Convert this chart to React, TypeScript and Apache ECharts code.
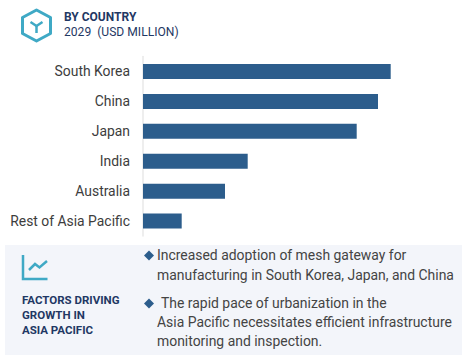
import React, { useEffect, useRef } from "react";
import * as echarts from "echarts";

const categories = ["South Korea", "China", "Japan", "India", "Australia", "Rest of Asia Pacific"];
const values = [247.7, 235, 213.7, 104.7, 82, 38.7];
const headerLines = ["BY COUNTRY", "2029  (USD MILLION)"];
const factorLines = ["FACTORS DRIVING", "GROWTH IN", "ASIA PACIFIC"];
const bulletTexts = [
  { x: 157, y: 255, t: "Increased adoption of mesh gateway for" },
  { x: 157, y: 275, t: "manufacturing in South Korea, Japan, and China" },
  { x: 161, y: 303, t: "The rapid pace of urbanization in the" },
  { x: 157, y: 322, t: "Asia Pacific necessitates efficient infrastructure" },
  { x: 157, y: 341, t: "monitoring and inspection." },
];

const FONT = "Roboto";
const NAVY = "#1f3864";
const TEAL = "#3fa9c5";
const BAR = "#2c5d8c";

function diamond(cx: number, cy: number) {
  return {
    type: "polygon",
    z: 5,
    shape: { points: [[cx - 5, cy], [cx, cy - 5], [cx + 5, cy], [cx, cy + 5]] },
    style: { fill: BAR },
  };
}

export default function App() {
  const ref = useRef<HTMLDivElement>(null);
  useEffect(() => {
    const chart = echarts.init(ref.current!, null, { renderer: "svg" });
    const hex = [[36.5, 10], [50.5, 17.5], [50.5, 33.5], [36.5, 41], [22.5, 33.5], [22.5, 17.5]];
    chart.setOption({
      animation: false,
      backgroundColor: "#ffffff",
      grid: { left: 143, top: 56.5, width: 300, height: 179.5 },
      xAxis: { type: "value", min: 0, max: 300, show: false },
      yAxis: {
        type: "category",
        inverse: true,
        data: categories,
        axisLine: { show: true, lineStyle: { color: "#e8e8e8", width: 1.5 } },
        axisTick: { show: false },
        axisLabel: { fontFamily: FONT, fontSize: 13.9, color: "#3d3d3d", margin: 13 },
      },
      series: [
        {
          type: "bar",
          data: values,
          barWidth: 15,
          silent: true,
          itemStyle: { color: BAR },
        },
      ],
      graphic: [
        { type: "rect", z: -1, shape: { x: 5, y: 245, width: 457, height: 110 }, style: { fill: "#f3f5fa" } },
        {
          type: "polygon",
          shape: { points: hex },
          style: { fill: "none", stroke: TEAL, lineWidth: 3, lineJoin: "round" },
        },
        { type: "line", shape: { x1: 36.5, y1: 26, x2: 36.5, y2: 33 }, style: { stroke: TEAL, lineWidth: 2.5 } },
        { type: "line", shape: { x1: 36.5, y1: 26, x2: 30.5, y2: 22 }, style: { stroke: TEAL, lineWidth: 2.5 } },
        { type: "line", shape: { x1: 36.5, y1: 26, x2: 42.5, y2: 22 }, style: { stroke: TEAL, lineWidth: 2.5 } },
        {
          type: "text",
          style: { x: 64, y: 17, text: headerLines[0], fontFamily: FONT, fontSize: 12, fontWeight: "bold", fill: NAVY, textVerticalAlign: "middle" },
        },
        {
          type: "text",
          style: { x: 64, y: 32, text: headerLines[1], fontFamily: FONT, fontSize: 12.1, fill: NAVY, textVerticalAlign: "middle" },
        },
        {
          type: "polyline",
          shape: { points: [[23, 255], [23, 279], [47.5, 279]] },
          style: { fill: "none", stroke: TEAL, lineWidth: 2.5 },
        },
        {
          type: "polyline",
          shape: { points: [[29, 270], [35, 264], [39.5, 267.5], [47, 261]] },
          style: { fill: "none", stroke: TEAL, lineWidth: 2.5 },
        },
        ...factorLines.map((t, i) => ({
          type: "text",
          style: { x: 22, y: 299.5 + i * 15.3, text: t, fontFamily: FONT, fontSize: 11.5, fontWeight: "bold", fill: NAVY, textVerticalAlign: "middle" },
        })),
        diamond(149, 255.5),
        diamond(149, 303.5),
        ...bulletTexts.map((b) => ({
          type: "text",
          style: { x: b.x, y: b.y, text: b.t, fontFamily: FONT, fontSize: 13.93, fill: "#444444", textVerticalAlign: "middle" },
        })),
      ],
    });
    return () => chart.dispose();
  }, []);
  return <div ref={ref} style={{ position: "fixed", left: 0, top: 0, width: 466, height: 355 }} />;
}
